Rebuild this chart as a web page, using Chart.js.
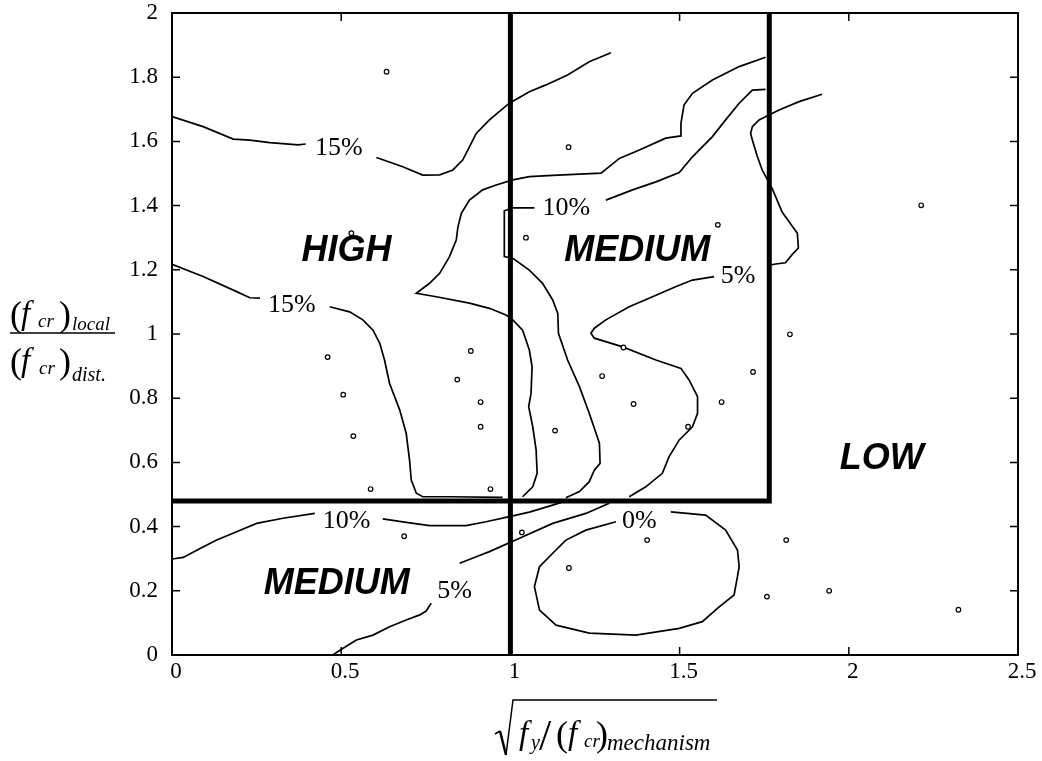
<!DOCTYPE html>
<html>
<head>
<meta charset="utf-8">
<script src="https://cdn.jsdelivr.net/npm/chart.js@4.4.1/dist/chart.umd.min.js"></script>
<style>
  html, body { margin: 0; padding: 0; background: #fff; }
  #wrap { position: relative; width: 1042px; height: 761px; }
  canvas { display: block; }
</style>
</head>
<body>
<div id="wrap"><canvas id="c" width="1042" height="761"></canvas></div>
<script>
// ---- axis tick labels ----
const xTickLabels = ['0', '0.5', '1', '1.5', '2', '2.5'];
const yTickLabels = ['0', '0.2', '0.4', '0.6', '0.8', '1', '1.2', '1.4', '1.6', '1.8', '2'];

// ---- tested specimens ----
const specimenX = [0.634, 1.172, 0.530, 1.046, 1.613, 2.214, 1.826, 1.717, 1.624, 1.334, 1.271,
                   1.364, 1.525, 1.132, 0.460, 0.506, 0.536, 0.587, 0.883, 0.843, 0.912, 0.912,
                   0.941, 0.686, 1.034, 1.404, 1.173, 1.815, 1.758, 1.942, 2.324];
const specimenY = [1.817, 1.582, 1.314, 1.300, 1.340, 1.401, 0.999, 0.882, 0.788, 0.958, 0.869,
                   0.782, 0.711, 0.699, 0.928, 0.811, 0.682, 0.517, 0.947, 0.858, 0.788, 0.711,
                   0.517, 0.370, 0.382, 0.358, 0.271, 0.358, 0.182, 0.200, 0.141];

// ---- zone boundaries ----
const slendernessLimit = 1.0;     // vertical divider
const mediumZoneEndX = 1.765;     // right edge of the upper MEDIUM zone
const ratioLimit = 0.48;          // horizontal divider

// ---- contour lines, [x, y] vertices (gaps are left for the inline labels) ----
const contour15TopLeft = [[0, 1.677], [0.092, 1.646], [0.181, 1.607], [0.230, 1.604], [0.289, 1.596],
  [0.373, 1.589], [0.395, 1.592]];
const contour15TopRight = [[0.604, 1.550], [0.682, 1.521], [0.741, 1.495], [0.791, 1.496], [0.830, 1.511],
  [0.859, 1.542], [0.879, 1.583], [0.899, 1.625], [0.938, 1.667], [0.997, 1.719], [1.056, 1.755],
  [1.105, 1.776], [1.169, 1.807], [1.233, 1.848], [1.297, 1.876]];
const contour15LowLeft = [[0, 1.217], [0.092, 1.179], [0.191, 1.132], [0.230, 1.113], [0.260, 1.112]];
const contour15LowRight = [[0.466, 1.085], [0.525, 1.069], [0.564, 1.044], [0.594, 1.012], [0.614, 0.971],
  [0.628, 0.919], [0.643, 0.846], [0.673, 0.763], [0.692, 0.691], [0.702, 0.607], [0.707, 0.545],
  [0.722, 0.504], [0.741, 0.493], [0.820, 0.493], [0.977, 0.491]];
const contour15Inner = [[1.754, 1.862], [1.676, 1.833], [1.597, 1.791], [1.538, 1.750], [1.513, 1.713],
  [1.504, 1.656], [1.504, 1.617], [1.459, 1.610], [1.381, 1.573], [1.322, 1.547], [1.268, 1.501],
  [1.204, 1.498], [1.125, 1.494], [1.056, 1.490], [1.007, 1.480], [0.958, 1.464], [0.918, 1.449],
  [0.879, 1.417], [0.855, 1.376], [0.845, 1.334], [0.840, 1.293], [0.820, 1.241], [0.791, 1.189],
  [0.761, 1.158], [0.722, 1.127], [0.781, 1.116], [0.879, 1.096], [0.938, 1.080], [0.987, 1.059],
  [1.007, 1.044], [1.036, 1.012], [1.056, 0.950], [1.064, 0.898], [1.061, 0.815], [1.054, 0.774],
  [1.066, 0.711], [1.076, 0.639], [1.079, 0.566], [1.066, 0.524], [1.036, 0.493]];
const contour10UpperRight = [[1.754, 1.762], [1.715, 1.760], [1.676, 1.719], [1.636, 1.667], [1.597, 1.615],
  [1.538, 1.552], [1.499, 1.503], [1.430, 1.474], [1.361, 1.449], [1.282, 1.417]];
const contour10UpperLeft = [[1.071, 1.393], [1.007, 1.393], [0.982, 1.384], [0.982, 1.241], [1.007, 1.236],
  [1.056, 1.199], [1.095, 1.158], [1.125, 1.106], [1.140, 1.064], [1.142, 1.002], [1.169, 0.919],
  [1.204, 0.836], [1.233, 0.753], [1.263, 0.660], [1.265, 0.597], [1.248, 0.576], [1.233, 0.540],
  [1.204, 0.509], [1.164, 0.490]];
const contour10LowLeft = [[0, 0.299], [0.033, 0.304], [0.083, 0.332], [0.132, 0.358], [0.191, 0.384],
  [0.250, 0.410], [0.328, 0.426], [0.422, 0.441]];
const contour10LowRight = [[0.623, 0.424], [0.682, 0.415], [0.761, 0.403], [0.869, 0.403], [0.928, 0.415],
  [0.997, 0.431], [1.056, 0.445], [1.125, 0.467], [1.164, 0.480]];
const contour5Right = [[1.921, 1.747], [1.853, 1.724], [1.794, 1.698], [1.764, 1.682], [1.735, 1.667],
  [1.715, 1.646], [1.710, 1.625], [1.715, 1.604], [1.730, 1.552], [1.744, 1.511], [1.774, 1.452],
  [1.803, 1.380], [1.848, 1.314], [1.851, 1.268], [1.833, 1.248], [1.813, 1.222], [1.784, 1.218],
  [1.759, 1.213]];
const contour5Middle = [[1.602, 1.179], [1.538, 1.168], [1.488, 1.147], [1.420, 1.116], [1.351, 1.085],
  [1.282, 1.044], [1.248, 1.018], [1.238, 1.002], [1.248, 0.987], [1.332, 0.960], [1.430, 0.919],
  [1.504, 0.893], [1.528, 0.857], [1.553, 0.805], [1.553, 0.753], [1.538, 0.711], [1.499, 0.670],
  [1.469, 0.618], [1.449, 0.566], [1.400, 0.524], [1.351, 0.493]];
const contour5LowUpper = [[0.850, 0.286], [0.899, 0.306], [0.938, 0.322], [1.027, 0.364], [1.125, 0.410],
  [1.223, 0.441], [1.292, 0.473]];
const contour5LowBottom = [[0.475, 0], [0.501, 0.018], [0.545, 0.047], [0.594, 0.062], [0.643, 0.088],
  [0.692, 0.109], [0.732, 0.125], [0.751, 0.137], [0.766, 0.161]];
const contour0Loop = [[1.474, 0.446], [1.577, 0.436], [1.636, 0.389], [1.671, 0.327], [1.676, 0.275],
  [1.671, 0.244], [1.661, 0.187], [1.617, 0.150], [1.567, 0.104], [1.499, 0.083], [1.371, 0.062],
  [1.233, 0.068], [1.135, 0.093], [1.086, 0.140], [1.071, 0.213], [1.086, 0.275], [1.125, 0.317],
  [1.164, 0.358], [1.223, 0.389], [1.312, 0.415]];

// ---- inline contour values and zone names ----
const contourLabelText = ['15%', '15%', '10%', '10%', '5%', '5%', '0%'];
const contourLabelX = [0.493, 0.354, 1.165, 0.516, 0.835, 1.673, 1.381];
const contourLabelY = [1.579, 1.090, 1.393, 0.417, 0.199, 1.181, 0.417];
const zoneText = ['HIGH', 'MEDIUM', 'MEDIUM', 'LOW'];
const zoneX = [0.516, 1.375, 0.487, 2.097];
const zoneY = [1.259, 1.259, 0.221, 0.611];

const toPoints = arr => arr.map(([x, y]) => ({ x, y }));
const contourSet = arr => ({
  data: toPoints(arr), showLine: true, borderColor: '#000', borderWidth: 1.7,
  pointRadius: 0, tension: 0, fill: false, order: 2
});
const contours = [contour15TopLeft, contour15TopRight, contour15LowLeft, contour15LowRight, contour15Inner,
  contour10UpperRight, contour10UpperLeft, contour10LowLeft, contour10LowRight, contour5Right,
  contour5Middle, contour5LowUpper, contour5LowBottom, contour0Loop];

const boundarySet = pts => ({
  data: pts, showLine: true, borderColor: '#000', borderWidth: 5, pointRadius: 0,
  tension: 0, fill: false, borderJoinStyle: 'miter', borderCapStyle: 'butt', order: 1
});

const SERIF = '"Liberation Serif", "Times New Roman", serif';
const SANS = '"Liberation Sans", Arial, sans-serif';

function run(ctx, parts) {
  parts.forEach(([txt, font, x, y]) => { ctx.font = font; ctx.fillText(txt, x, y); });
}

const decorations = {
  id: 'decorations',
  afterDatasetsDraw(chart) {
    const { ctx, chartArea: a, scales: { x, y } } = chart;
    ctx.save();
    ctx.strokeStyle = '#000';
    ctx.fillStyle = '#000';
    // inward tick marks on all four sides
    ctx.lineWidth = 1.5;
    ctx.beginPath();
    x.ticks.forEach(t => {
      const px = x.getPixelForValue(t.value);
      ctx.moveTo(px, a.bottom); ctx.lineTo(px, a.bottom - 8);
      ctx.moveTo(px, a.top); ctx.lineTo(px, a.top + 8);
    });
    y.ticks.forEach(t => {
      const py = y.getPixelForValue(t.value);
      ctx.moveTo(a.left, py); ctx.lineTo(a.left + 8, py);
      ctx.moveTo(a.right, py); ctx.lineTo(a.right - 8, py);
    });
    ctx.stroke();
    // plot frame
    ctx.lineWidth = 2;
    ctx.strokeRect(a.left, a.top, a.right - a.left, a.bottom - a.top);

    // contour values
    ctx.textAlign = 'center';
    ctx.textBaseline = 'middle';
    ctx.font = '26px ' + SERIF;
    contourLabelText.forEach((t, i) => {
      ctx.fillText(t, x.getPixelForValue(contourLabelX[i]), y.getPixelForValue(contourLabelY[i]));
    });
    // zone names
    ctx.font = 'italic bold 36px ' + SANS;
    zoneText.forEach((t, i) => {
      ctx.fillText(t, x.getPixelForValue(zoneX[i]), y.getPixelForValue(zoneY[i]));
    });
    ctx.restore();
  },
  afterDraw(chart) {
    const ctx = chart.ctx;
    ctx.save();
    ctx.fillStyle = '#000';
    ctx.strokeStyle = '#000';
    ctx.textAlign = 'left';
    ctx.textBaseline = 'alphabetic';
    const P = '36px ' + SERIF, F = 'italic 33px ' + SERIF, S = 'italic 19px ' + SERIF;
    // y-axis title: (f_cr)_local / (f_cr)_dist.
    run(ctx, [['(', P, 10, 326], ['f', F, 21, 324], ['cr', S, 38, 327], [')', P, 59, 326],
              ['local', S, 72, 330]]);
    ctx.lineWidth = 1.5;
    ctx.beginPath(); ctx.moveTo(10, 333); ctx.lineTo(115, 333); ctx.stroke();
    run(ctx, [['(', P, 10, 373], ['f', F, 21, 371], ['cr', S, 39, 374], [')', P, 59, 373],
              ['dist.', 'italic 20px ' + SERIF, 72, 381]]);
    // x-axis title: sqrt( f_y / (f_cr)_mechanism )
    ctx.lineWidth = 1.5;
    ctx.beginPath();
    ctx.moveTo(495, 734); ctx.lineTo(500, 731);
    ctx.stroke();
    ctx.lineWidth = 2.5;
    ctx.beginPath(); ctx.moveTo(500, 731); ctx.lineTo(506, 755); ctx.stroke();
    ctx.lineWidth = 1.5;
    ctx.beginPath(); ctx.moveTo(506, 755); ctx.lineTo(513, 700); ctx.lineTo(717, 700); ctx.stroke();
    run(ctx, [['f', F, 519, 744], ['y', 'italic 20px ' + SERIF, 531, 749], ['/', '44px ' + SERIF, 539, 750],
              ['(', P, 556, 746], ['f', F, 568, 744], ['cr', S, 584, 747], [')', P, 596, 746],
              ['mechanism', 'italic 23px ' + SERIF, 607, 750]]);
    ctx.restore();
  }
};

new Chart(document.getElementById('c'), {
  type: 'scatter',
  data: {
    datasets: [
      {
        data: specimenX.map((v, i) => ({ x: v, y: specimenY[i] })),
        showLine: false, pointRadius: 2.3, pointBorderWidth: 1.2,
        pointBackgroundColor: '#fff', pointBorderColor: '#000', order: 0
      },
      boundarySet([{ x: slendernessLimit, y: 0 }, { x: slendernessLimit, y: 2 }]),
      boundarySet([{ x: 0, y: ratioLimit }, { x: mediumZoneEndX, y: ratioLimit }, { x: mediumZoneEndX, y: 2 }]),
      ...contours.map(contourSet)
    ]
  },
  options: {
    responsive: false,
    animation: false,
    devicePixelRatio: 1,
    layout: { padding: { left: 0, right: 24, top: 13, bottom: 0 } },
    plugins: { legend: { display: false }, tooltip: { enabled: false } },
    scales: {
      x: {
        type: 'linear', min: 0, max: 2.5,
        grid: { display: false, drawTicks: false }, border: { display: false },
        ticks: {
          stepSize: 0.5, autoSkip: false, maxRotation: 0, color: '#000', padding: 3, labelOffset: 4,
          font: { family: SERIF, size: 23 },
          callback: (v, i) => xTickLabels[i]
        },
        afterFit: s => { s.height = 106; s.paddingLeft = 0; s.paddingRight = 0; }
      },
      y: {
        type: 'linear', min: 0, max: 2,
        grid: { display: false, drawTicks: false }, border: { display: false },
        ticks: {
          stepSize: 0.2, autoSkip: false, color: '#000', padding: 14,
          font: { family: SERIF, size: 23 },
          callback: (v, i) => yTickLabels[i]
        },
        afterFit: s => { s.width = 172; s.paddingTop = 0; s.paddingBottom = 0; }
      }
    }
  },
  plugins: [decorations]
});
</script>
</body>
</html>
